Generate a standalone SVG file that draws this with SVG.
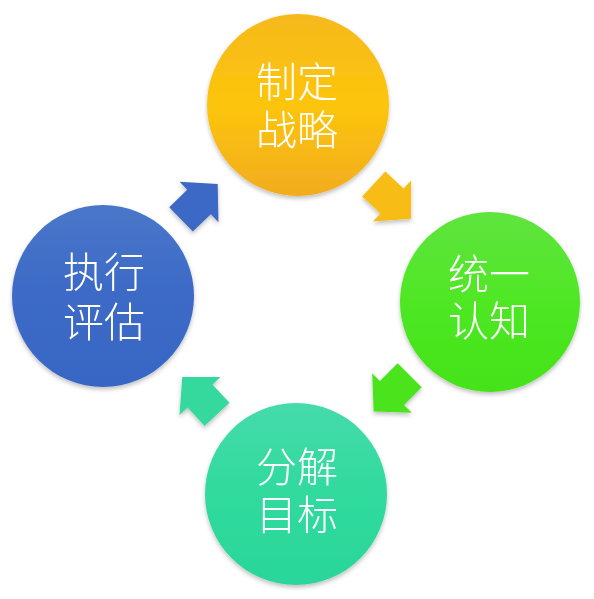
<svg xmlns="http://www.w3.org/2000/svg" width="594" height="599" viewBox="0 0 594 599">
<defs>
<style>
.lbl{font-family:"Noto Sans CJK SC","Noto Sans CJK TC",sans-serif;font-size:41px;font-weight:300;fill:#ffffff;text-anchor:middle}
</style>
<filter id="sh" x="-20%" y="-20%" width="140%" height="140%">
<feDropShadow dx="0" dy="2.5" stdDeviation="2" flood-color="#000" flood-opacity="0.25"/>
</filter>
<linearGradient id="gOr" x1="0" y1="0" x2="0" y2="1">
<stop offset="0" stop-color="#F6B91C"/><stop offset="0.5" stop-color="#FCC50C"/><stop offset="1" stop-color="#F2AC1F"/>
</linearGradient>
<linearGradient id="gGr" x1="0" y1="0" x2="0" y2="1">
<stop offset="0" stop-color="#5FE43F"/><stop offset="0.5" stop-color="#4FE724"/><stop offset="1" stop-color="#44E319"/>
</linearGradient>
<linearGradient id="gTe" x1="0" y1="0" x2="0" y2="1">
<stop offset="0" stop-color="#45DBAA"/><stop offset="0.5" stop-color="#30DA9E"/><stop offset="1" stop-color="#2BD699"/>
</linearGradient>
<linearGradient id="gBl" x1="0" y1="0" x2="0" y2="1">
<stop offset="0" stop-color="#4A76CA"/><stop offset="0.5" stop-color="#3C6AC6"/><stop offset="1" stop-color="#3866C4"/>
</linearGradient>
<path id="arr" d="M-25,-17 L0,-17 L0,-28 L26,0 L0,28 L0,17 L-25,17 Z"/>
</defs>
<g id="connectors" filter="url(#sh)">
<use href="#arr" fill="#F7BD16" transform="translate(392,201) rotate(43)"/>
<use href="#arr" fill="#4CE41F" transform="translate(392,393) rotate(135)"/>
<use href="#arr" fill="#34D99E" transform="translate(200,396) rotate(-133)"/>
<use href="#arr" fill="#3C69C6" transform="translate(199,202) rotate(-44)"/>
</g>
<g id="node-top">
<circle cx="298" cy="105" r="91" fill="url(#gOr)" filter="url(#sh)"/>
<text class="lbl"><tspan x="297" y="97">制定</tspan><tspan x="297" y="145">战略</tspan></text>
</g>
<g id="node-right">
<circle cx="490" cy="302" r="90" fill="url(#gGr)" filter="url(#sh)"/>
<text class="lbl"><tspan x="489" y="289">统一</tspan><tspan x="489" y="336">认知</tspan></text>
</g>
<g id="node-bottom">
<circle cx="296" cy="494" r="91" fill="url(#gTe)" filter="url(#sh)"/>
<text class="lbl"><tspan x="297" y="482">分解</tspan><tspan x="297" y="530">目标</tspan></text>
</g>
<g id="node-left">
<circle cx="103" cy="296" r="91" fill="url(#gBl)" filter="url(#sh)"/>
<text class="lbl"><tspan x="104" y="287">执行</tspan><tspan x="104" y="337">评估</tspan></text>
</g>
</svg>
